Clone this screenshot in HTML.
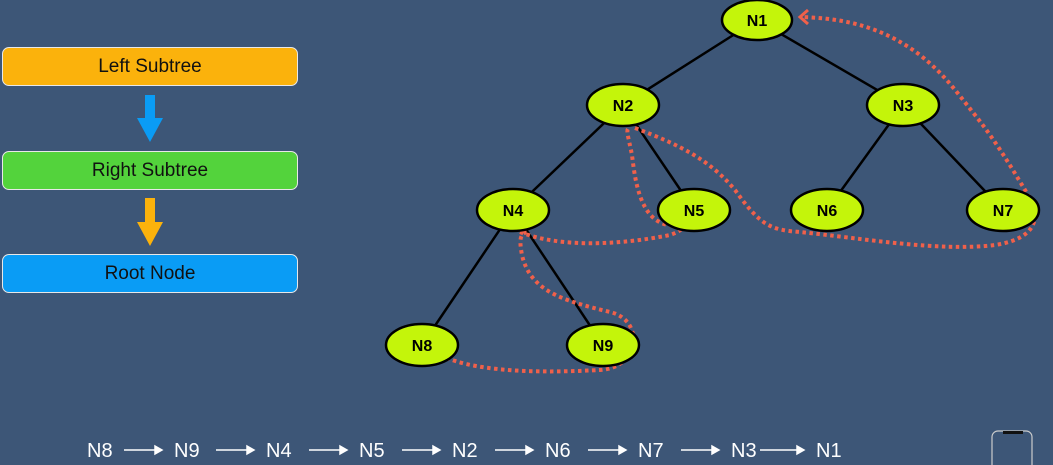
<!DOCTYPE html>
<html><head><meta charset="utf-8"><style>
body{margin:0;width:1053px;height:465px;background:#3d5677;overflow:hidden;font-family:"Liberation Sans",sans-serif;}
.box{position:absolute;left:2px;width:294px;height:37px;border:1.5px solid #e8e8e8;border-radius:7px;font-size:19px;color:#111;text-align:center;line-height:37px;}
</style></head><body>
<div class="box" style="top:47px;background:#fbb20c">Left Subtree</div>
<div class="box" style="top:151px;background:#53d33c">Right Subtree</div>
<div class="box" style="top:254px;background:#0a9cf5">Root Node</div>
<svg width="1053" height="465" style="position:absolute;left:0;top:0">
<polygon points="145,95 155,95 155,118 163,118 150,142 137,118 145,118" fill="#0a9cf5"/>
<polygon points="145,198 155,198 155,222 163,222 150,246 137,222 145,222" fill="#fbb20c"/>
<g stroke="#000" stroke-width="2.5">
<line x1="757" y1="20" x2="623" y2="105"/><line x1="757" y1="20" x2="903" y2="105"/>
<line x1="623" y1="105" x2="513" y2="210"/><line x1="623" y1="105" x2="694" y2="210"/>
<line x1="903" y1="105" x2="827" y2="210"/><line x1="903" y1="105" x2="1003" y2="210"/>
<line x1="513" y1="210" x2="422" y2="345"/><line x1="513" y1="210" x2="603" y2="345"/>
</g>
<g fill="none" stroke="#f0604a" stroke-width="4" stroke-dasharray="3.5,3.5">
<path d="M440,355 C480,375 560,372 600,370 C640,368 645,320 610,312 C560,300 530,290 522,255 C518,235 522,232 530,232"/>
<path d="M520,232 C560,248 620,245 670,235 C690,228 680,225 668,225 C640,220 635,180 632,155 C628,135 625,128 630,128"/>
<path d="M635,128 C680,145 710,160 735,190 C760,225 770,230 800,232 C860,238 940,252 995,245 C1040,238 1040,215 1028,195 C1010,165 995,140 975,115 C955,90 945,75 920,55 C880,25 840,18 800,17"/>
</g>
<polyline points="808,10 800,17 808,24" fill="none" stroke="#f0604a" stroke-width="3"/>
<g stroke="#000" stroke-width="2.5" fill="#c4f50a">
<ellipse cx="757" cy="20" rx="35" ry="20"/><ellipse cx="623" cy="105" rx="36" ry="21"/>
<ellipse cx="903" cy="105" rx="36" ry="21"/><ellipse cx="513" cy="210" rx="36" ry="21"/>
<ellipse cx="694" cy="210" rx="36" ry="21"/><ellipse cx="827" cy="210" rx="36" ry="21"/>
<ellipse cx="1003" cy="210" rx="36" ry="21"/><ellipse cx="422" cy="345" rx="36" ry="21"/>
<ellipse cx="603" cy="345" rx="36" ry="21"/>
</g>
<g font-family="Liberation Sans,sans-serif" font-weight="bold" font-size="16" text-anchor="middle" fill="#000">
<text x="757" y="26">N1</text><text x="623" y="111">N2</text><text x="903" y="111">N3</text>
<text x="513" y="216">N4</text><text x="694" y="216">N5</text><text x="827" y="216">N6</text>
<text x="1003" y="216">N7</text><text x="422" y="351">N8</text><text x="603" y="351">N9</text>
</g>
<g font-family="Liberation Sans,sans-serif" font-size="20" fill="#fff">
<text x="87" y="457">N8</text><text x="174" y="457">N9</text><text x="266" y="457">N4</text>
<text x="359" y="457">N5</text><text x="452" y="457">N2</text><text x="545" y="457">N6</text>
<text x="638" y="457">N7</text><text x="731" y="457">N3</text><text x="816" y="457">N1</text>
</g>
<g stroke="#fff" stroke-width="1.5" fill="#fff">
<line x1="124" y1="450" x2="160" y2="450"/><polygon points="162,450 155,446 155,454"/>
<line x1="216" y1="450" x2="252" y2="450"/><polygon points="254,450 247,446 247,454"/>
<line x1="309" y1="450" x2="345" y2="450"/><polygon points="347,450 340,446 340,454"/>
<line x1="402" y1="450" x2="438" y2="450"/><polygon points="440,450 433,446 433,454"/>
<line x1="495" y1="450" x2="531" y2="450"/><polygon points="533,450 526,446 526,454"/>
<line x1="588" y1="450" x2="624" y2="450"/><polygon points="626,450 619,446 619,454"/>
<line x1="681" y1="450" x2="717" y2="450"/><polygon points="719,450 712,446 712,454"/>
<line x1="760" y1="450" x2="802" y2="450"/><polygon points="804,450 797,446 797,454"/>
</g>
<rect x="992" y="431" width="40" height="40" rx="6" fill="none" stroke="#ccc" stroke-width="1.2"/>
<rect x="1003" y="431" width="20" height="3" fill="#111"/>
</svg>
</body></html>
